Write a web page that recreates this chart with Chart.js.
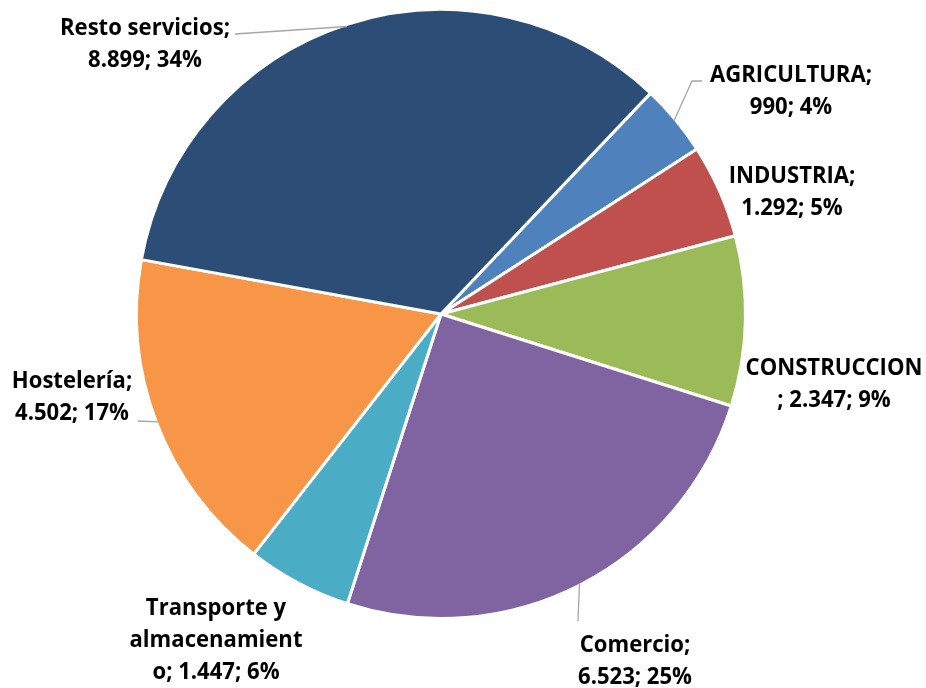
<!DOCTYPE html>
<html>
<head>
<meta charset="utf-8">
<script src="https://cdn.jsdelivr.net/npm/chart.js@4/dist/chart.umd.min.js"></script>
<style>
  html, body { margin: 0; padding: 0; background: #fff; }
  #wrap { width: 926px; height: 688px; position: relative; }
</style>
</head>
<body>
<div id="wrap"><canvas id="pie-chart" width="926" height="688"></canvas></div>
<script>
const categories = ["AGRICULTURA", "INDUSTRIA", "CONSTRUCCION", "Comercio", "Transporte y almacenamiento", "Hostelería", "Resto servicios"];
const values = [990, 1292, 2347, 6523, 1447, 4502, 8899];
const sliceColors = ["#4F81BD", "#C0504D", "#9BBB59", "#8064A2", "#4BACC6", "#F79646", "#2C4D75"];

// where each label wraps (character index), like the original text boxes
const labelBreaks = [[12], [10], [12], [9], [12, 26], [11], [16]];
// label anchor: centre x, first baseline y
const labelPos = [[791, 82], [792, 183], [834, 375], [635, 652], [216, 615], [72, 388], [145, 35]];
// leader line start points (label side); null = no line
const leaderFrom = [[[702, 81], [692, 81]], null, null, [[578, 621]], null, [[138, 421]], [[235, 34]]];

const LINE_HEIGHT = 32;
const FONT = "bold 24px 'Open Sans'";

function formatThousands(value) {
  return String(value).replace(/\B(?=(\d{3})+(?!\d))/g, ".");
}

function buildLabelLines() {
  const total = values.reduce((a, b) => a + b, 0);
  return categories.map((name, i) => {
    const pct = Math.round((values[i] / total) * 100);
    const text = `${name}; ${formatThousands(values[i])}; ${pct}%`;
    const lines = [];
    let prev = 0;
    for (const cut of labelBreaks[i]) {
      lines.push(text.slice(prev, cut).trim());
      prev = cut;
    }
    lines.push(text.slice(prev).trim());
    return lines;
  });
}

const labelLines = buildLabelLines();

const labelPlugin = {
  id: "outsideLabels",
  afterDraw(chart) {
    const ctx = chart.ctx;
    const arcs = chart.getDatasetMeta(0).data;

    // leader lines
    ctx.save();
    ctx.strokeStyle = "#A6A6A6";
    ctx.lineWidth = 1.3;
    arcs.forEach((arc, i) => {
      const from = leaderFrom[i];
      if (!from) {
        return;
      }
      const mid = (arc.startAngle + arc.endAngle) / 2;
      const r = arc.outerRadius - 2;
      ctx.beginPath();
      ctx.moveTo(from[0][0], from[0][1]);
      for (let k = 1; k < from.length; k++) {
        ctx.lineTo(from[k][0], from[k][1]);
      }
      ctx.lineTo(arc.x + Math.cos(mid) * r, arc.y + Math.sin(mid) * r);
      ctx.stroke();
    });
    ctx.restore();

    // text, squeezed a little to mimic the narrow original face
    ctx.save();
    ctx.font = FONT;
    ctx.fillStyle = "#000";
    ctx.textAlign = "center";
    ctx.textBaseline = "alphabetic";
    const sx = 170 / ctx.measureText("Resto servicios;").width;
    labelLines.forEach((lines, i) => {
      const [cx, cy] = labelPos[i];
      lines.forEach((line, j) => {
        ctx.save();
        ctx.translate(cx, cy + j * LINE_HEIGHT);
        ctx.scale(sx, 1);
        ctx.fillText(line, 0, 0);
        ctx.restore();
      });
    });
    ctx.restore();
  }
};

new Chart(document.getElementById("pie-chart"), {
  type: "pie",
  data: {
    labels: categories,
    datasets: [
      {
        data: values,
        backgroundColor: sliceColors,
        borderColor: "#FFFFFF",
        borderWidth: 3
      }
    ]
  },
  options: {
    responsive: false,
    animation: false,
    rotation: 43.5,
    layout: {
      padding: { left: 135, right: 179, top: 8, bottom: 68 }
    },
    plugins: {
      legend: { display: false },
      tooltip: { enabled: false }
    }
  },
  plugins: [labelPlugin]
});
</script>
</body>
</html>
